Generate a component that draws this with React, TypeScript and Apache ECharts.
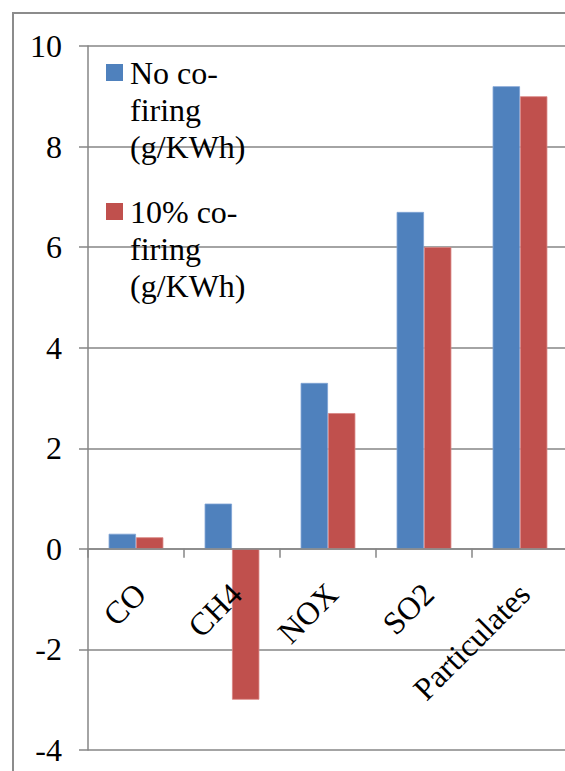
import React, { useEffect, useRef } from "react";
import * as echarts from "echarts";

const categories = ["CO", "CH4", "NOX", "SO2", "Particulates"];
const noCofiring = [0.3, 0.9, 3.3, 6.7, 9.2];
const cofiring10 = [0.23, -3.0, 2.7, 6.0, 9.0];
const seriesNames = ["No co-firing (g/KWh)", "10% co-firing (g/KWh)"];
const legendLines: Record<string, string[]> = {
  "No co-firing (g/KWh)": ["No co-", "firing", "(g/KWh)"],
  "10% co-firing (g/KWh)": ["10% co-", "firing", "(g/KWh)"],
};
const yMin = -4;
const yMax = 10;
const yInterval = 2;

const FONT = "Liberation Serif";
const FS = 32;
const BLUE = "#4F81BD";
const RED = "#C0504D";
const GRID = "#868686";

export default function App() {
  const ref = useRef<HTMLDivElement>(null);
  useEffect(() => {
    document.body.style.margin = "0";
    const chart = echarts.init(ref.current!, null, { renderer: "svg" });
    const gridTop = 46;
    const gridBottom = 21;
    const plotH = 771 - gridTop - gridBottom;
    const zeroOffset = -(plotH * (0 - yMin)) / (yMax - yMin);
    chart.setOption({
      animation: false,
      backgroundColor: "#ffffff",
      grid: {
        left: 88,
        top: gridTop,
        right: -3,
        bottom: gridBottom,
        containLabel: false,
        outerBoundsMode: "none",
      },
      graphic: [
        {
          type: "rect",
          z: -1,
          shape: { x: 13, y: 13, width: 700, height: 900 },
          style: { fill: "none", stroke: "#8c8c8c", lineWidth: 2 },
        },
      ],
      legend: {
        orient: "vertical",
        left: 101,
        top: 54,
        padding: 0,
        icon: "none",
        itemWidth: 0,
        itemHeight: 0,
        itemGap: 28,
        selectedMode: false,
        data: seriesNames,
        formatter: (name: string) => {
          const l = legendLines[name];
          const m = name === seriesNames[0] ? "m0" : "m1";
          return `{${m}|}{g|}{t|${l[0]}}\n{s|}{t|${l[1]}}\n{s|}{t|${l[2]}}`;
        },
        textStyle: {
          color: "#000",
          fontFamily: FONT,
          fontSize: FS,
          lineHeight: 37,
          rich: {
            m0: { width: 17, height: 17, backgroundColor: BLUE },
            m1: { width: 17, height: 17, backgroundColor: RED },
            g: { width: 7 },
            s: { width: 24 },
            t: { fontFamily: FONT, fontSize: FS, lineHeight: 37, color: "#000" },
          },
        },
      },
      xAxis: {
        type: "category",
        data: categories,
        position: "bottom",
        offset: zeroOffset,
        z: 5,
        axisLine: { onZero: false, lineStyle: { color: GRID, width: 1.5 } },
        axisTick: { show: true, length: 9, lineStyle: { color: GRID, width: 1.5 } },
        axisLabel: {
          rotate: 45,
          margin: 44,
          padding: [0, -6, 0, 0],
          color: "#000",
          fontFamily: FONT,
          fontSize: FS,
          interval: 0,
        },
        splitLine: { show: false },
      },
      yAxis: {
        type: "value",
        min: yMin,
        max: yMax,
        interval: yInterval,
        axisLine: { show: true, lineStyle: { color: GRID, width: 1.5 } },
        axisTick: { show: true, length: 9, lineStyle: { color: GRID, width: 1.5 } },
        axisLabel: { margin: 26, color: "#000", fontFamily: FONT, fontSize: FS },
        splitLine: { show: true, lineStyle: { color: GRID, width: 1.5 } },
      },
      series: [
        {
          name: seriesNames[0],
          type: "bar",
          data: noCofiring,
          barGap: "0%",
          barCategoryGap: "43%",
          itemStyle: { color: BLUE, borderColor: "#7da2d4", borderWidth: 0.8 },
        },
        {
          name: seriesNames[1],
          type: "bar",
          data: cofiring10,
          barGap: "0%",
          barCategoryGap: "43%",
          itemStyle: { color: RED, borderColor: "#d98482", borderWidth: 0.8 },
        },
      ],
    });
    return () => chart.dispose();
  }, []);
  return <div ref={ref} style={{ width: 565, height: 771 }} />;
}
